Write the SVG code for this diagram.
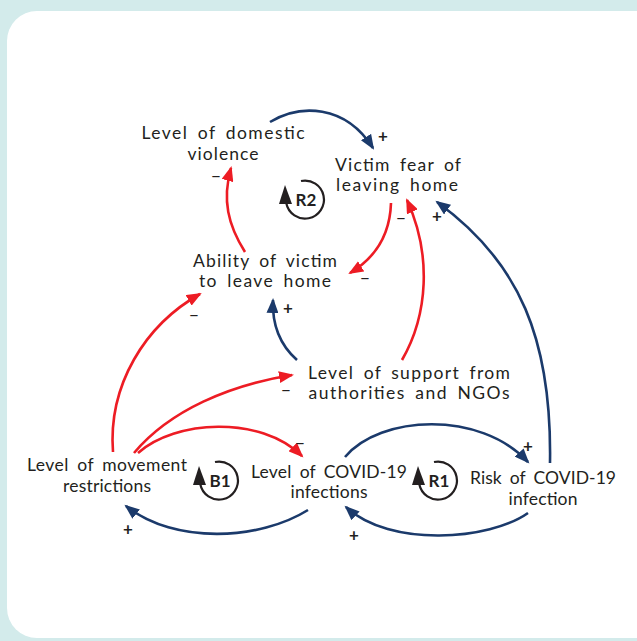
<svg xmlns="http://www.w3.org/2000/svg" width="637" height="641" viewBox="0 0 637 641">
  <defs>
    <style>
      .lbl { font-family: Lato, "Open Sans", "DejaVu Sans", sans-serif; font-size: 17.5px; word-spacing: 3.5px; fill: #231f20; text-anchor: middle; }
      .sign { font-family: Lato, "Open Sans", "DejaVu Sans", sans-serif; font-size: 17px; font-weight: bold; fill: #231f20; text-anchor: middle; }
      .minus { font-weight: normal; }
      .loopname { font-family: Lato, "Open Sans", "DejaVu Sans", sans-serif; font-size: 17px; font-weight: bold; fill: #231f20; text-anchor: middle; }
      .neg { fill: none; stroke: #ed1c24; stroke-width: 2.6; marker-end: url(#headNeg); }
      .pos { fill: none; stroke: #1b3a6b; stroke-width: 2.6; marker-end: url(#headPos); }
      .loop { fill: none; stroke: #231f20; stroke-width: 2.2; }
    </style>
    <marker id="headNeg" markerUnits="userSpaceOnUse" markerWidth="16" markerHeight="12" refX="13" refY="6" orient="auto">
      <path d="M0,0 L15,6 L0,12 Z" fill="#ed1c24"/>
    </marker>
    <marker id="headPos" markerUnits="userSpaceOnUse" markerWidth="16" markerHeight="12" refX="13" refY="6" orient="auto">
      <path d="M0,0 L15,6 L0,12 Z" fill="#1b3a6b"/>
    </marker>
  </defs>

  <!-- panel -->
  <rect x="0" y="0" width="637" height="641" fill="#d3ebeb"/>
  <rect x="7" y="11" width="660" height="627" rx="30" ry="30" fill="#ffffff"/>

  <!-- connectors -->
  <g id="connectors">
    <path class="pos" d="M270,122 C300,104 345,104 373,148"/>
    <path class="neg" d="M245,252 C228,225 222,200 231,168"/>
    <path class="neg" d="M391,203 C390,235 375,258 350,273"/>
    <path class="neg" d="M402,360 C428,315 432,255 407,200"/>
    <path class="pos" d="M550,463 C552,340 520,262 437,202"/>
    <path class="pos" d="M297,360 C280,345 272,325 273,300"/>
    <path class="neg" d="M113,452 C108,385 145,325 200,294"/>
    <path class="neg" d="M134,453 C170,410 230,385 292,375"/>
    <path class="neg" d="M138,453 C175,420 260,415 302,456"/>
    <path class="pos" d="M308,510 C260,540 175,545 126,506"/>
    <path class="pos" d="M345,457 C380,415 480,410 528,462"/>
    <path class="pos" d="M528,513 C490,540 390,548 346,507"/>

    <!-- polarity signs -->
    <text class="sign" x="383" y="142">+</text>
    <text class="sign minus" x="216" y="182">−</text>
    <text class="sign minus" x="401" y="224">−</text>
    <text class="sign minus" x="365" y="284">−</text>
    <text class="sign" x="437" y="222">+</text>
    <text class="sign" x="288" y="314">+</text>
    <text class="sign minus" x="194" y="321">−</text>
    <text class="sign minus" x="286" y="396">−</text>
    <text class="sign minus" x="300" y="449">−</text>
    <text class="sign" x="128" y="535">+</text>
    <text class="sign" x="528" y="452">+</text>
    <text class="sign" x="354" y="541">+</text>
  </g>

  <!-- variables -->
  <g id="domestic-violence">
    <text class="lbl" x="223" y="139" textLength="163" lengthAdjust="spacing">Level of domestic</text>
    <text class="lbl" x="223" y="160" textLength="71" lengthAdjust="spacing">violence</text>
  </g>
  <g id="victim-fear">
    <text class="lbl" x="398" y="171" textLength="126" lengthAdjust="spacing">Victim fear of</text>
    <text class="lbl" x="397" y="191" textLength="122" lengthAdjust="spacing">leaving home</text>
  </g>
  <g id="ability-to-leave">
    <text class="lbl" x="265" y="267" textLength="144" lengthAdjust="spacing">Ability of victim</text>
    <text class="lbl" x="265" y="287" textLength="132" lengthAdjust="spacing">to leave home</text>
  </g>
  <g id="support">
    <text class="lbl" x="409" y="379" textLength="202" lengthAdjust="spacing">Level of support from</text>
    <text class="lbl" x="409" y="399" textLength="201" lengthAdjust="spacing">authorities and NGOs</text>
  </g>
  <g id="movement-restrictions">
    <text class="lbl" x="107" y="471" textLength="160" lengthAdjust="spacing">Level of movement</text>
    <text class="lbl" x="107" y="492" textLength="88" lengthAdjust="spacing">restrictions</text>
  </g>
  <g id="covid-infections">
    <text class="lbl" x="329" y="478" textLength="156" lengthAdjust="spacing">Level of COVID-19</text>
    <text class="lbl" x="329" y="498" textLength="77" lengthAdjust="spacing">infections</text>
  </g>
  <g id="covid-risk">
    <text class="lbl" x="543" y="484" textLength="146" lengthAdjust="spacing">Risk of COVID-19</text>
    <text class="lbl" x="543" y="505" textLength="69" lengthAdjust="spacing">infection</text>
  </g>

  <!-- loop markers -->
  <g id="loop-R2" transform="translate(305,200)">
    <path class="loop" d="M-4,-19 A19,19 0 1 1 -18.7,3.3"/>
    <path d="M-20,-15 L-26,4 L-13,4 Z" fill="#231f20"/>
    <text class="loopname" x="1" y="6">R2</text>
  </g>
  <g id="loop-B1" transform="translate(219,481)">
    <path class="loop" d="M-4,-19 A19,19 0 1 1 -18.7,3.3"/>
    <path d="M-20,-15 L-26,4 L-13,4 Z" fill="#231f20"/>
    <text class="loopname" x="1" y="6">B1</text>
  </g>
  <g id="loop-R1" transform="translate(438,481)">
    <path class="loop" d="M-4,-19 A19,19 0 1 1 -18.7,3.3"/>
    <path d="M-20,-15 L-26,4 L-13,4 Z" fill="#231f20"/>
    <text class="loopname" x="1" y="6">R1</text>
  </g>
</svg>
